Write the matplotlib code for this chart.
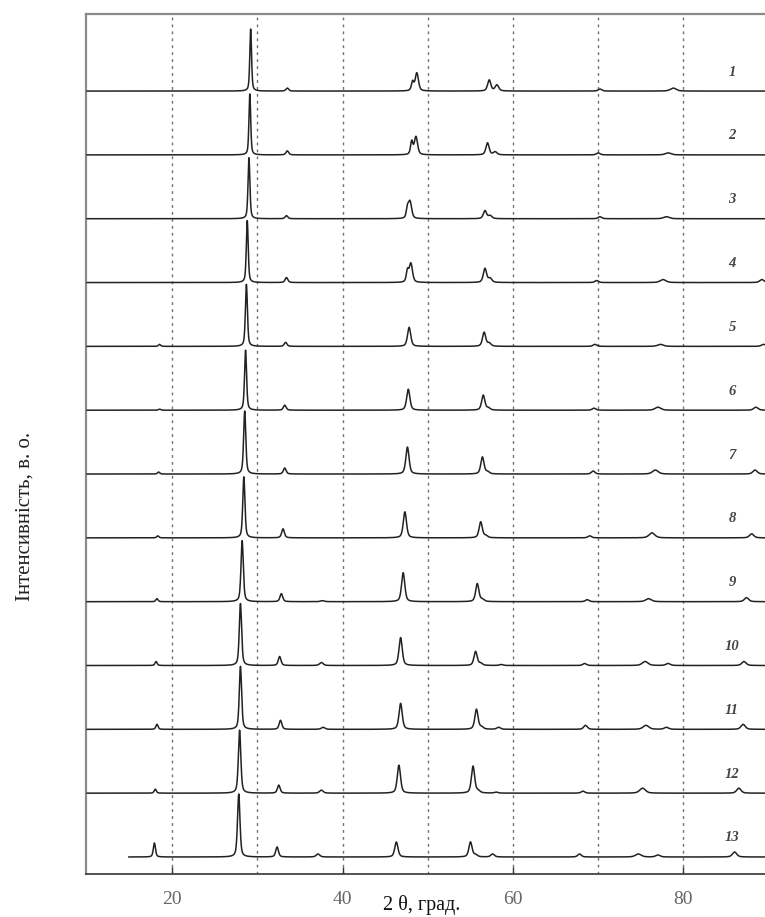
import numpy as np
import matplotlib
matplotlib.use("Agg")
import matplotlib.pyplot as plt

# дифрактограми, зверху (1) вниз (13)
labels = ["1", "2", "3", "4", "5", "6", "7", "8", "9", "10", "11", "12", "13"]
x_start = [10, 10, 10, 10, 10, 10, 10, 10, 10, 10, 10, 10, 14.9]

main_pos = [29.2, 29.1, 29.0, 28.8, 28.7, 28.6, 28.5, 28.4, 28.2, 28.0, 28.0, 27.9, 27.8]
main_h = [62, 61, 61, 62, 62, 60, 63, 61, 61, 62, 63, 63, 63]
main_w = [0.24, 0.24, 0.26, 0.26, 0.28, 0.28, 0.30, 0.30, 0.32, 0.32, 0.32, 0.34, 0.34]

p18_pos = [18.6, 18.6, 18.6, 18.6, 18.5, 18.5, 18.4, 18.3, 18.2, 18.1, 18.2, 18.0, 17.9]
p18_h = [0, 0, 0, 0, 2, 1, 2, 2, 3, 4, 5, 4, 14]

p33_pos = [33.5, 33.5, 33.4, 33.4, 33.3, 33.2, 33.2, 33.0, 32.8, 32.6, 32.7, 32.5, 32.3]
p33_h = [3, 4, 3, 5, 4, 5, 6, 9, 8, 9, 9, 8, 10]

p37_pos = [37.8, 37.8, 37.8, 37.8, 37.8, 37.7, 37.7, 37.6, 37.6, 37.5, 37.7, 37.5, 37.1]
p37_h = [0, 0, 0, 0, 0, 0, 0, 0, 1, 3, 2, 3, 3]

p47_pos = [48.7, 48.6, 47.9, 48.0, 47.8, 47.7, 47.6, 47.3, 47.1, 46.8, 46.8, 46.6, 46.3]
p47_h = [18, 18, 17, 19, 19, 21, 27, 26, 29, 28, 26, 28, 15]
p47b_pos = [48.2, 48.1, 47.6, 47.6, 47.5, 47.4, 47.3, 47.0, 46.8, 46.5, 46.5, 46.3, 46.0]
p47b_h = [9, 13, 9, 11, 0, 0, 0, 0, 0, 0, 0, 0, 0]

p56_pos = [57.2, 57.0, 56.7, 56.7, 56.6, 56.5, 56.4, 56.2, 55.8, 55.6, 55.7, 55.3, 55.0]
p56_h = [11, 12, 8, 14, 14, 15, 17, 16, 18, 14, 20, 27, 15]
p56b_pos = [58.1, 57.9, 57.3, 57.3, 57.2, 57.1, 57.0, 56.8, 56.4, 56.2, 56.3, 55.9, 55.6]
p56b_h = [6, 3, 3, 4, 3, 2, 2, 2, 2, 2, 2, 2, 2]

p58_pos = [59.0, 59.0, 59.0, 59.0, 59.0, 59.0, 59.0, 59.0, 58.8, 58.6, 58.3, 58.0, 57.6]
p58_h = [0, 0, 0, 0, 0, 0, 0, 0, 0, 1, 2, 1, 3]

p69_pos = [70.2, 70.0, 70.2, 69.8, 69.6, 69.5, 69.4, 69.0, 68.7, 68.4, 68.5, 68.2, 67.8]
p69_h = [2, 2, 2, 2, 2, 2, 3, 2, 2, 2, 4, 2, 3]

p76_pos = [78.8, 78.2, 78.0, 77.6, 77.3, 77.0, 76.7, 76.3, 75.9, 75.5, 75.6, 75.2, 74.7]
p76_h = [3, 2, 2, 3, 2, 3, 4, 5, 3, 4, 4, 5, 3]

p79_pos = [80.0, 80.0, 80.0, 80.0, 80.0, 80.0, 80.0, 80.0, 80.0, 78.2, 78.0, 77.6, 77.0]
p79_h = [0, 0, 0, 0, 0, 0, 0, 0, 0, 2, 2, 0, 2]

p88_pos = [89.5, 89.5, 89.5, 89.2, 89.4, 88.5, 88.4, 88.0, 87.4, 87.1, 87.0, 86.5, 86.0]
p88_h = [0, 0, 0, 3, 2, 3, 4, 4, 4, 4, 5, 5, 5]

x_ticks = [20, 40, 60, 80]
grid_x = [20, 30, 40, 50, 60, 70, 80]


def pik(x, c, h, w, eta=0.5):
    # псевдо-Фойгт з напівшириною w
    g = np.exp(-4 * np.log(2) * (x - c) ** 2 / w ** 2)
    l = 1 / (1 + 4 * (x - c) ** 2 / w ** 2)
    return h * (eta * l + (1 - eta) * g)


rodyny = [
    (main_pos, main_h, None),
    (p18_pos, p18_h, 0.3),
    (p33_pos, p33_h, 0.38),
    (p37_pos, p37_h, 0.5),
    (p47_pos, p47_h, 0.45),
    (p47b_pos, p47b_h, 0.32),
    (p56_pos, p56_h, 0.45),
    (p56b_pos, p56b_h, 0.5),
    (p58_pos, p58_h, 0.5),
    (p69_pos, p69_h, 0.5),
    (p76_pos, p76_h, 0.8),
    (p79_pos, p79_h, 0.6),
    (p88_pos, p88_h, 0.6),
]

fig = plt.figure(figsize=(7.65, 9.17), dpi=100)
ax = fig.add_axes([0.1124, 0.0469, 0.8876, 0.9378])

krok = 63.83
n = len(labels)

for xg in grid_x:
    ax.axvline(xg, color="#707070", lw=1.0, linestyle=(0, (2, 3)), zorder=1)

for i in range(n):
    zsuv = 17 + (n - 1 - i) * krok
    x = np.arange(x_start[i], 89.7, 0.02)
    y = np.zeros_like(x)
    for poz, vys, shyr in rodyny:
        if vys[i] == 0:
            continue
        w = main_w[i] if shyr is None else shyr
        y += pik(x, poz[i], vys[i], w)
    ax.plot(x, y + zsuv, color="#222222", lw=1.1, zorder=3)
    ax.text(85.7, zsuv + 19, labels[i], fontsize=10.5, fontweight="bold",
            fontstyle="italic", family="Liberation Serif", color="#444444",
            ha="center", va="center")

ax.set_xlim(9.87, 89.57)
ax.set_ylim(0, 860)
ax.set_yticks([])
ax.set_xticks(x_ticks)
ax.tick_params(axis="x", direction="in", length=5, width=1, color="#333333",
               labelsize=14, labelcolor="#666666", pad=12)
for t in ax.get_xticklabels():
    t.set_family("Liberation Serif")

ax.spines["right"].set_visible(False)
for s in ["left", "top"]:
    ax.spines[s].set_color("#8a8a8a")
    ax.spines[s].set_linewidth(1.6)
ax.spines["bottom"].set_color("#444444")
ax.spines["bottom"].set_linewidth(1.3)

fig.text(422 / 765, 1 - 905 / 917, "2 θ, град.", fontsize=14.5,
         family="Liberation Serif", ha="center", va="center", color="#111111")
fig.text(25 / 765, 1 - 516 / 917, "Інтенсивність, в. о.", fontsize=15,
         family="Liberation Serif", ha="center", va="center", rotation=90,
         color="#222222")

fig.savefig("out.png", dpi=100)
